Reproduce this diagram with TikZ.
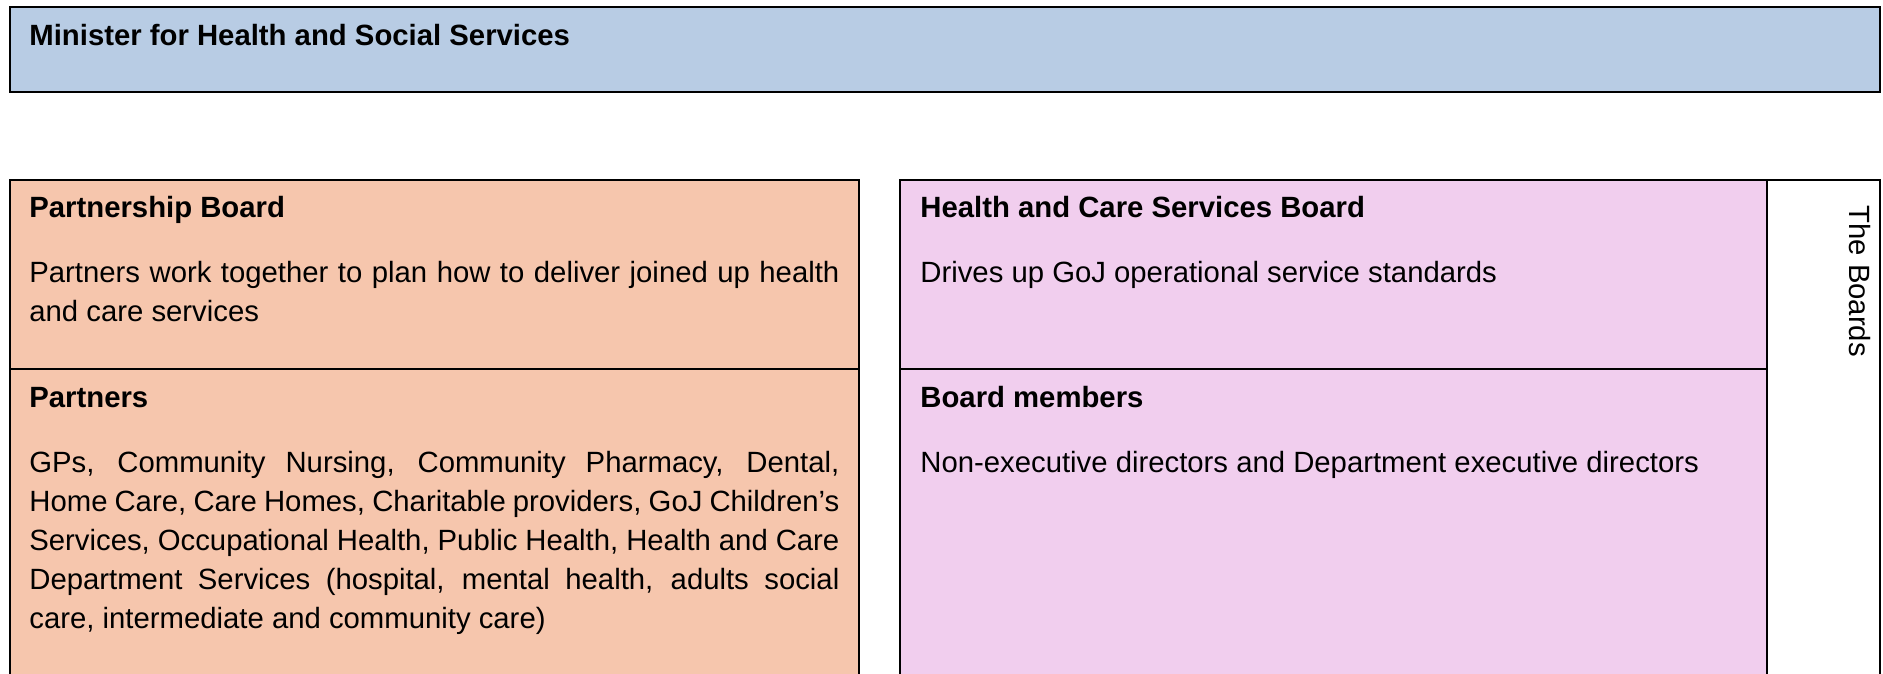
\documentclass[tikz,border=0pt]{standalone}
\usepackage{fontspec}
\setmainfont{Liberation Sans}
\definecolor{ministerblue}{HTML}{B8CCE4}
\definecolor{partnerorange}{HTML}{F6C6AD}
\definecolor{boardpink}{HTML}{F1CEEE}
\begin{document}
\begin{tikzpicture}[x=0.5pt,y=-0.5pt,
  panel/.style={draw=black,line width=1.25pt},
  label/.style={inner sep=0pt,anchor=base west,font=\fontsize{14.65pt}{19.5pt}\selectfont},
  heading/.style={label,font=\fontsize{14.65pt}{19.5pt}\selectfont\bfseries},
  para/.style={label,text width=405pt,align=justify}]
\useasboundingbox (0,0) rectangle (1883,674);
\clip (0,0) rectangle (1883,674);
\fill[white] (0,0) rectangle (1883,674);

% Minister banner
\draw[panel,fill=ministerblue] (10,7) rectangle (1880,92);
\node[heading] (minister) at (29,46) {Minister for Health and Social Services};

% Partnership column
\draw[panel,fill=partnerorange] (10,180) rectangle (859,700);
\draw[panel] (10,369) -- (859,369);
\node[heading] (pbtitle) at (29,217) {Partnership Board};
\node[para] (pbtext) at (29,282) {Partners work together to plan how to deliver joined up health\linebreak and care services};
\node[heading] (ptitle) at (29,407) {Partners};
\node[para] (ptext) at (29,472) {GPs, Community Nursing, Community Pharmacy, Dental,\linebreak Home Care, Care Homes, Charitable providers, GoJ Children’s\linebreak Services, Occupational Health, Public Health, Health and Care\linebreak Department Services (hospital, mental health, adults social\linebreak care, intermediate and community care)};

% Health and Care Services Board column
\draw[panel,fill=boardpink] (900,180) rectangle (1767,700);
\draw[panel] (900,369) -- (1767,369);
\node[heading] (hctitle) at (920,217) {Health and Care Services Board};
\node[label] (hctext) at (920,282) {Drives up GoJ operational service standards};
\node[heading] (bmtitle) at (920,407) {Board members};
\node[label] (bmtext) at (920,472) {Non-executive directors and Department executive directors};

% Side strip
\draw[panel] (1767,180) -- (1880,180) -- (1880,700);
\node[label,rotate=-90] (boards) at (1849.5,205) {The Boards};
\end{tikzpicture}
\end{document}
